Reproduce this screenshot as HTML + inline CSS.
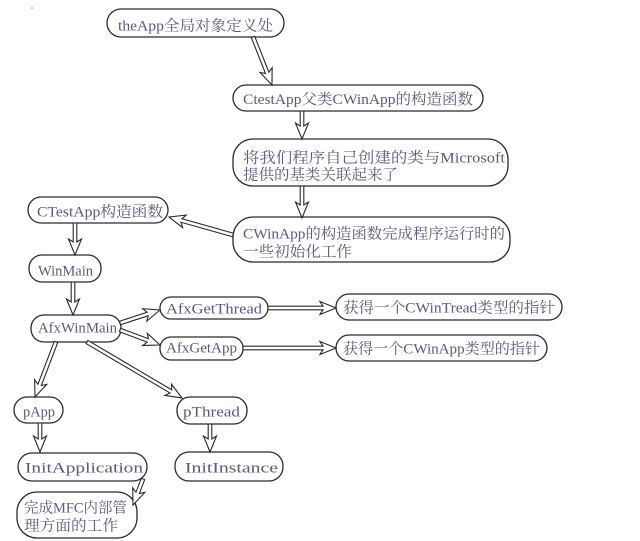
<!DOCTYPE html>
<html>
<head>
<meta charset="utf-8">
<style>
  html, body { margin: 0; padding: 0; background: #fff; }
  svg { display: block; }
  text { font-family: "Liberation Serif", "Noto Serif CJK SC", "Noto Sans CJK SC", serif; font-size: 15px; fill: #5a5a7c; }
  .b { fill: #fff; stroke: #2a2a2a; stroke-width: 1.3; }
  .a { fill: #fff; stroke: #2a2a2a; stroke-width: 1.1; stroke-linejoin: miter; }
</style>
</head>
<body>
<svg width="640" height="541" viewBox="0 0 640 541" xmlns="http://www.w3.org/2000/svg">
  <rect x="0" y="0" width="640" height="541" fill="#fff"/>
  <circle cx="32" cy="8" r="0.8" fill="#888"/>

  <!-- boxes -->
  <rect class="b" x="107" y="9" width="177" height="28" rx="14"/>
  <rect class="b" x="233" y="85" width="250" height="26" rx="13"/>
  <rect class="b" x="233" y="139" width="275" height="47" rx="20"/>
  <rect class="b" x="233" y="217" width="277" height="45" rx="20"/>
  <rect class="b" x="28" y="197" width="140" height="26" rx="13"/>
  <rect class="b" x="29" y="255" width="72" height="27" rx="13"/>
  <rect class="b" x="31" y="315" width="90" height="27" rx="13"/>
  <rect class="b" x="160" y="297" width="108" height="22" rx="11"/>
  <rect class="b" x="160" y="337" width="83" height="23" rx="11"/>
  <rect class="b" x="336" y="294" width="226" height="26" rx="13"/>
  <rect class="b" x="336" y="335" width="211" height="26" rx="13"/>
  <rect class="b" x="14" y="397" width="49" height="26" rx="13"/>
  <rect class="b" x="177" y="397" width="70" height="27" rx="13"/>
  <rect class="b" x="18" y="453" width="129" height="28" rx="14"/>
  <rect class="b" x="175" y="452" width="108" height="29" rx="14"/>
  <rect class="b" x="17" y="492" width="120" height="46" rx="20"/>

  <!-- arrows -->
  <g transform="translate(253,37) rotate(68.4)"><polygon class="a" points="0,-1.8 38.6,-1.8 35.6,-6.5 51.6,0 35.6,6.5 38.6,1.8 0,1.8"/></g>
  <g transform="translate(302,111) rotate(90)"><polygon class="a" points="0,-1.8 15,-1.8 12,-6.5 28,0 12,6.5 15,1.8 0,1.8"/></g>
  <g transform="translate(302,186) rotate(90)"><polygon class="a" points="0,-1.8 19,-1.8 16,-6.5 32,0 16,6.5 19,1.8 0,1.8"/></g>
  <g transform="translate(233,235) rotate(-164.3)"><polygon class="a" points="0,-1.8 53.5,-1.8 50.5,-6.5 66.5,0 50.5,6.5 53.5,1.8 0,1.8"/></g>
  <g transform="translate(75,223) rotate(90)"><polygon class="a" points="0,-1.8 19,-1.8 16,-6.5 32,0 16,6.5 19,1.8 0,1.8"/></g>
  <g transform="translate(73,282) rotate(90)"><polygon class="a" points="0,-1.8 20,-1.8 17,-6.5 33,0 17,6.5 20,1.8 0,1.8"/></g>
  <g transform="translate(120,323) rotate(-18)"><polygon class="a" points="0,-1.8 29.1,-1.8 26.1,-6.5 42.1,0 26.1,6.5 29.1,1.8 0,1.8"/></g>
  <g transform="translate(120,330) rotate(20.6)"><polygon class="a" points="0,-1.8 29.7,-1.8 26.7,-6.5 42.7,0 26.7,6.5 29.7,1.8 0,1.8"/></g>
  <g transform="translate(87,342) rotate(30.5)"><polygon class="a" points="0,-1.8 97.3,-1.8 94.3,-6.5 110.3,0 94.3,6.5 97.3,1.8 0,1.8"/></g>
  <g transform="translate(56,342) rotate(110.9)"><polygon class="a" points="0,-1.8 45.9,-1.8 42.9,-6.5 58.9,0 42.9,6.5 45.9,1.8 0,1.8"/></g>
  <g transform="translate(40,423) rotate(90)"><polygon class="a" points="0,-1.8 16,-1.8 13,-6.5 29,0 13,6.5 16,1.8 0,1.8"/></g>
  <g transform="translate(210,424) rotate(90)"><polygon class="a" points="0,-1.8 15,-1.8 12,-6.5 28,0 12,6.5 15,1.8 0,1.8"/></g>
  <g transform="translate(143,479) rotate(111)"><polygon class="a" points="0,-1.8 14.9,-1.8 11.9,-6.5 27.9,0 11.9,6.5 14.9,1.8 0,1.8"/></g>
  <g transform="translate(268,308)"><polygon class="a" points="0,-1.8 55,-1.8 52,-6.5 68,0 52,6.5 55,1.8 0,1.8"/></g>
  <g transform="translate(243,348)"><polygon class="a" points="0,-1.8 80,-1.8 77,-6.5 93,0 77,6.5 80,1.8 0,1.8"/></g>

  <!-- labels -->
  <text x="118" y="30.5" textLength="155" lengthAdjust="spacingAndGlyphs">theApp全局对象定义处</text>
  <text x="243" y="104" textLength="230" lengthAdjust="spacingAndGlyphs">CtestApp父类CWinApp的构造函数</text>
  <text x="243" y="162.5" textLength="262" lengthAdjust="spacingAndGlyphs">将我们程序自己创建的类与Microsoft</text>
  <text x="243" y="179.5" textLength="155" lengthAdjust="spacingAndGlyphs">提供的基类关联起来了</text>
  <text x="243" y="238.5" textLength="262" lengthAdjust="spacingAndGlyphs">CWinApp的构造函数完成程序运行时的</text>
  <text x="243" y="256.5" textLength="109" lengthAdjust="spacingAndGlyphs">一些初始化工作</text>
  <text x="37" y="216.5" textLength="126" lengthAdjust="spacingAndGlyphs">CTestApp构造函数</text>
  <text x="38" y="275.5" textLength="55" lengthAdjust="spacingAndGlyphs">WinMain</text>
  <text x="38" y="332.5" textLength="79" lengthAdjust="spacingAndGlyphs">AfxWinMain</text>
  <text x="166" y="313.5" textLength="96" lengthAdjust="spacingAndGlyphs">AfxGetThread</text>
  <text x="166" y="352.5" textLength="71" lengthAdjust="spacingAndGlyphs">AfxGetApp</text>
  <text x="343" y="312.5" textLength="212" lengthAdjust="spacingAndGlyphs">获得一个CWinTread类型的指针</text>
  <text x="343" y="353.5" textLength="197" lengthAdjust="spacingAndGlyphs">获得一个CWinApp类型的指针</text>
  <text x="23" y="416.5" textLength="32" lengthAdjust="spacingAndGlyphs">pApp</text>
  <text x="183" y="416.5" textLength="57" lengthAdjust="spacingAndGlyphs">pThread</text>
  <text x="25" y="472.5" textLength="118" lengthAdjust="spacingAndGlyphs">InitApplication</text>
  <text x="185" y="472.5" textLength="93" lengthAdjust="spacingAndGlyphs">InitInstance</text>
  <text x="24" y="512.5" textLength="103" lengthAdjust="spacingAndGlyphs">完成MFC内部管</text>
  <text x="24" y="530.5" textLength="94" lengthAdjust="spacingAndGlyphs">理方面的工作</text>
</svg>
</body>
</html>
